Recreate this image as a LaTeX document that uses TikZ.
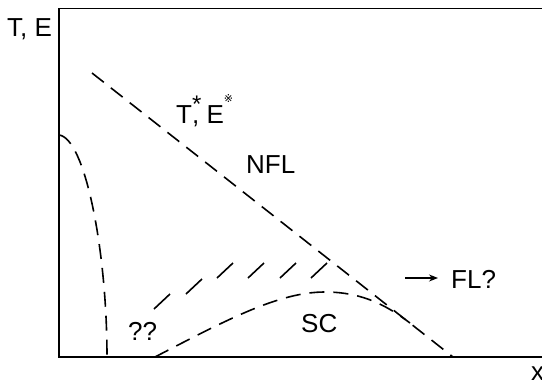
\documentclass[tikz,border=0pt]{standalone}
\usepackage{fontspec}
\setmainfont{Liberation Sans}
\newfontfamily\symfont{DejaVu Sans}
\usetikzlibrary{arrows.meta}
\begin{document}
\begin{tikzpicture}[x=1pt,y=-1pt,
  lbl/.style={inner sep=0pt,anchor=base west,font=\fontsize{26}{30}\selectfont},
  axisline/.style={line width=1.8pt},
  dsh/.style={line width=1.6pt,dash pattern=on 15pt off 9pt},
  hatch/.style={line width=1.6pt}]
\useasboundingbox (0,0) rectangle (542,383);
\fill[white] (0,0) rectangle (542,383);
% axes
\coordinate (tl) at (59,8.5);
\coordinate (tr) at (545,8.5);
\coordinate (bl) at (59,357);
\coordinate (br) at (545,357);
\draw[axisline] (tr) -- (tl) -- (bl) -- (br);
% labels
\node[lbl] (te) at (7,36) {T, E};
\node[lbl] (tstar) at (176,123) {T\rlap{\raisebox{11pt}{\fontsize{24}{24}\selectfont *}}, E\raisebox{21pt}{\symfont\fontsize{11}{11}\selectfont ※}};
\node[lbl] (nfl) at (246,173) {NFL};
\node[lbl] (sc) at (301,332) {SC};
\node[lbl] (qq) at (128,340) {??};
\node[lbl] (fl) at (451,288) {FL?};
\node[lbl] (xl) at (531,380) {x};
% NFL line
\coordinate (n0) at (92,73);
\coordinate (n1) at (453,357);
\draw[dsh] (n0) -- (n1);
% left curve
\coordinate (l0) at (59,135);
\coordinate (l1) at (107,357);
\draw[dsh] (l0) .. controls (85,138) and (107,250) .. (l1);
% SC dome
\coordinate (s0) at (155,357);
\coordinate (sp) at (325,292);
\coordinate (s1) at (410,323);
\draw[dsh] (s0) .. controls (230,318) and (280,292) .. (sp)
  .. controls (365,292) and (390,308) .. (s1);
% hatches
\foreach \x/\y [count=\i] in {154/309,186/294,217/278,248/278,280/278,311/278}{
  \coordinate (h\i a) at (\x,\y);
  \coordinate (h\i b) at (\x+16,\y-15);
  \draw[hatch] (h\i a) -- (h\i b);
}
% arrow
\coordinate (a0) at (405,278);
\coordinate (a1) at (438,278);
\draw[line width=1.2pt,-{Stealth[length=9pt,width=7pt]}] (a0) -- (a1);
\end{tikzpicture}
\end{document}
